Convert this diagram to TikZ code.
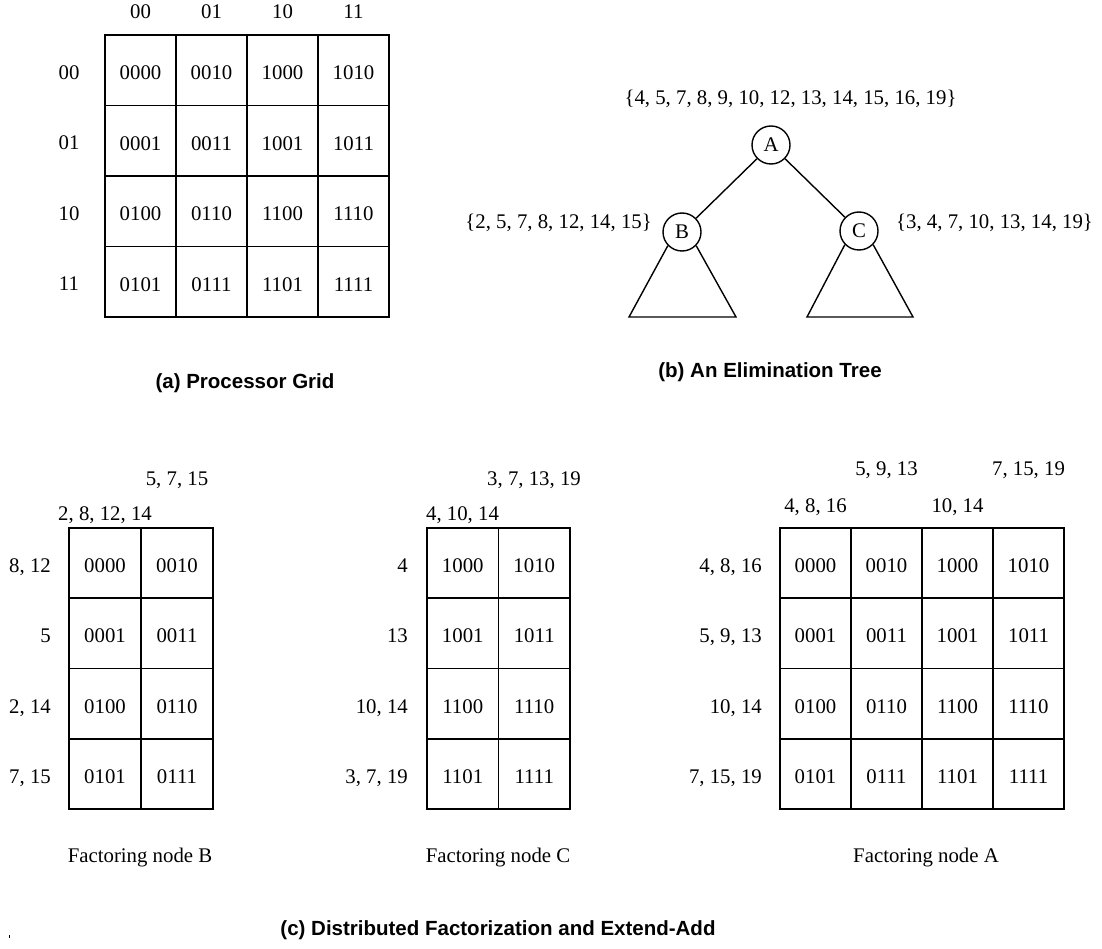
\documentclass[tikz,border=0pt]{standalone}
\usepackage{fontspec}
\setmainfont{Liberation Serif}
\newfontfamily\titlefont{Liberation Sans}
\tikzset{
  lbl/.style={font=\fontsize{20.8}{24}\selectfont, inner sep=0pt},
  ttl/.style={font=\titlefont\bfseries\fontsize{20.5}{24}\selectfont, inner sep=0pt, anchor=base},
  cell/.style 2 args={draw, line width=1.6pt, minimum width=#1, minimum height=#2, inner sep=0pt,
    lbl, text height=19pt, text depth=0pt},
  tnode/.style={circle, draw, line width=1.4pt, minimum size=38pt, inner sep=0pt, lbl},
  edge/.style={line width=1.4pt},
}
\begin{document}
\begin{tikzpicture}[x=1pt,y=-1pt]
\useasboundingbox (0,0) rectangle (1102,949);

% ---------- (a) processor grid ----------
\foreach \r/\la/\lb/\lc/\ld in {0/0000/0010/1000/1010,1/0001/0011/1001/1011,2/0100/0110/1100/1110,3/0101/0111/1101/1111}{
  \foreach \c/\t in {0/\la,1/\lb,2/\lc,3/\ld}{
    \node[cell={71pt}{70.5pt}] (a\r\c) at ({105+71*(\c+0.5)},{35+70.5*(\r+0.5)}) {\t};
  }
}
\foreach \i/\t in {0/00,1/01,2/10,3/11}{
  \node[lbl, anchor=base] (ac\i) at ({105+71*(\i+0.5)},19) {\t};
  \node[lbl, anchor=base] (ar\i) at (69,{35+70.5*(\i+0.5)+9}) {\t};
}
\node[ttl] (ta) at (245,388) {(a) Processor Grid};

% ---------- (b) elimination tree ----------
\node[tnode] (A) at (771,145) {A};
\node[tnode] (B) at (682,232) {B};
\node[tnode] (C) at (859,231) {C};
\draw[edge] (A) -- (B);
\draw[edge] (A) -- (C);
\coordinate (bl) at (629,317);
\coordinate (br) at (736,317);
\coordinate (cl) at (807,317);
\coordinate (cr) at (913,317);
\draw[edge] (B.-136) -- (bl) -- (br) -- (B.-44);
\draw[edge] (C.-136) -- (cl) -- (cr) -- (C.-44);
\node[lbl, anchor=base] (LA) at (790.5,105) {\{4, 5, 7, 8, 9, 10, 12, 13, 14, 15, 16, 19\}};
\node[lbl, anchor=base east] (LB) at (652,229) {\{2, 5, 7, 8, 12, 14, 15\}};
\node[lbl, anchor=base west] (LC) at (896,229) {\{3, 4, 7, 10, 13, 14, 19\}};
\node[ttl] (tb) at (770,377) {(b) An Elimination Tree};

% ---------- (c) node B ----------
\foreach \r/\la/\lb in {0/0000/0010,1/0001/0011,2/0100/0110,3/0101/0111}{
  \foreach \c/\t in {0/\la,1/\lb}{
    \node[cell={72pt}{70.25pt}] (b\r\c) at ({69+72*(\c+0.5)},{528+70.25*(\r+0.5)}) {\t};
  }
}
\foreach \i/\t in {0/{8, 12},1/5,2/{2, 14},3/{7, 15}}{
  \node[lbl, anchor=base east] (br\i) at (51,{528+70.25*(\i+0.5)+9.5}) {\t};
}
\node[lbl, anchor=base] (bc0) at (105,520) {2, 8, 12, 14};
\node[lbl, anchor=base] (bc1) at (177,485) {5, 7, 15};
\node[lbl, anchor=base] (fb) at (140,862) {Factoring node B};

% ---------- (c) node C ----------
\foreach \r/\la/\lb in {0/1000/1010,1/1001/1011,2/1100/1110,3/1101/1111}{
  \foreach \c/\t in {0/\la,1/\lb}{
    \node[cell={71.5pt}{70.25pt}] (c\r\c) at ({427+71.5*(\c+0.5)},{528+70.25*(\r+0.5)}) {\t};
  }
}
\foreach \i/\t in {0/4,1/13,2/{10, 14},3/{3, 7, 19}}{
  \node[lbl, anchor=base east] (cr\i) at (408,{528+70.25*(\i+0.5)+9.5}) {\t};
}
\node[lbl, anchor=base] (cc0) at (462.5,520) {4, 10, 14};
\node[lbl, anchor=base] (cc1) at (534,485) {3, 7, 13, 19};
\node[lbl, anchor=base] (fc) at (498,862) {Factoring node C};

% ---------- (c) node A ----------
\foreach \r/\la/\lb/\lc/\ld in {0/0000/0010/1000/1010,1/0001/0011/1001/1011,2/0100/0110/1100/1110,3/0101/0111/1101/1111}{
  \foreach \c/\t in {0/\la,1/\lb,2/\lc,3/\ld}{
    \node[cell={71pt}{70.25pt}] (d\r\c) at ({780+71*(\c+0.5)},{528+70.25*(\r+0.5)}) {\t};
  }
}
\foreach \i/\t in {0/{4, 8, 16},1/{5, 9, 13},2/{10, 14},3/{7, 15, 19}}{
  \node[lbl, anchor=base east] (dr\i) at (762,{528+70.25*(\i+0.5)+9.5}) {\t};
}
\node[lbl, anchor=base] (dc0) at (815.5,512) {4, 8, 16};
\node[lbl, anchor=base] (dc1) at (886.5,475) {5, 9, 13};
\node[lbl, anchor=base] (dc2) at (957.5,512) {10, 14};
\node[lbl, anchor=base] (dc3) at (1028.5,475) {7, 15, 19};
\node[lbl, anchor=base] (fa) at (926,862) {Factoring node A};

\node[ttl] (tc) at (498,935) {(c) Distributed Factorization and Extend-Add};
\draw[line width=0.8pt] (9,935) -- (9,938);
\end{tikzpicture}
\end{document}
